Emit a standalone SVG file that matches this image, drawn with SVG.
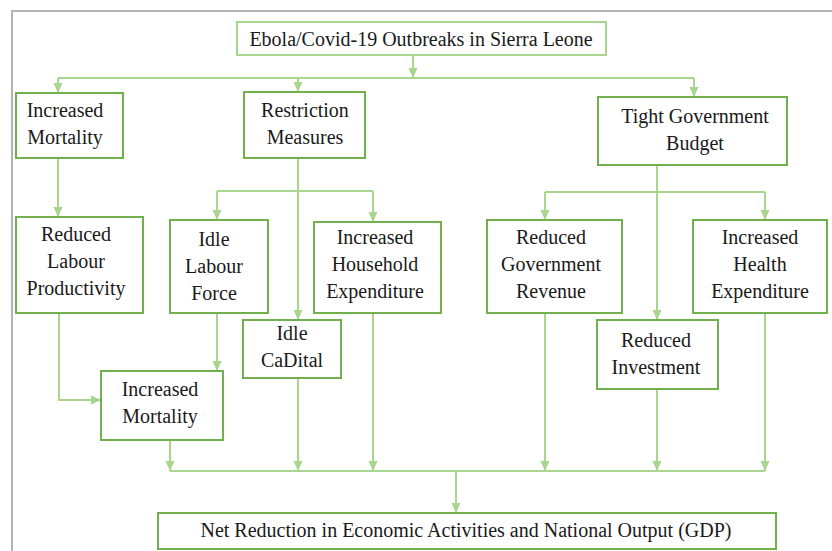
<svg xmlns="http://www.w3.org/2000/svg" width="832" height="551" viewBox="0 0 832 551">
<style>
.box{fill:#ffffff;stroke:#72b04e;stroke-width:2}
.box2{fill:#ffffff;stroke:#a9d68e;stroke-width:2}
.t{font-family:'Liberation Serif','Times New Roman',Tinos,'DejaVu Serif',serif;font-size:20px;fill:#1a1a1a;text-anchor:middle}
.c{fill:none;stroke:#a9d68e;stroke-width:2}
.frame{fill:none;stroke:#b4b4b4;stroke-width:2}
</style>
<defs>
<marker id="ah" markerUnits="userSpaceOnUse" markerWidth="10" markerHeight="10" refX="10" refY="5" orient="auto">
<path d="M0,0.5 L10,5 L0,9.5 z" fill="#a9d68e"/>
</marker>
</defs>
<rect width="832" height="551" fill="#ffffff"/>
<path class="frame" d="M12,551 L12,11 L832,11"/>
<g id="connectors">
<path class="c" d="M413,55 L413,78" marker-end="url(#ah)"/>
<path class="c" d="M58,78 L694,78"/>
<path class="c" d="M58,78 L58,93" marker-end="url(#ah)"/>
<path class="c" d="M298,78 L298,92" marker-end="url(#ah)"/>
<path class="c" d="M694,78 L694,97" marker-end="url(#ah)"/>
<path class="c" d="M58,158 L58,217" marker-end="url(#ah)"/>
<path class="c" d="M298,158 L298,320" marker-end="url(#ah)"/>
<path class="c" d="M217,191 L373,191"/>
<path class="c" d="M217,191 L217,220" marker-end="url(#ah)"/>
<path class="c" d="M373,191 L373,222" marker-end="url(#ah)"/>
<path class="c" d="M657,165 L657,320" marker-end="url(#ah)"/>
<path class="c" d="M545,192 L765,192"/>
<path class="c" d="M545,192 L545,220" marker-end="url(#ah)"/>
<path class="c" d="M765,192 L765,220" marker-end="url(#ah)"/>
<path class="c" d="M59,313 L59,400 L101,400" marker-end="url(#ah)"/>
<path class="c" d="M217,313 L217,371" marker-end="url(#ah)"/>
<path class="c" d="M170,471 L765,471"/>
<path class="c" d="M170,440 L170,471" marker-end="url(#ah)"/>
<path class="c" d="M298,378 L298,471" marker-end="url(#ah)"/>
<path class="c" d="M373,313 L373,471" marker-end="url(#ah)"/>
<path class="c" d="M545,313 L545,471" marker-end="url(#ah)"/>
<path class="c" d="M657,389 L657,471" marker-end="url(#ah)"/>
<path class="c" d="M765,313 L765,471" marker-end="url(#ah)"/>
<path class="c" d="M456,471 L456,513" marker-end="url(#ah)"/>
</g>
<g id="outbreaks">
<rect class="box2" x="237" y="22" width="369" height="33"/>
<text class="t" x="421" y="46">Ebola/Covid-19 Outbreaks in Sierra Leone</text>
</g>
<g id="mortality1">
<rect class="box" x="16" y="93" width="107" height="65"/>
<text class="t" x="65" y="117">Increased</text>
<text class="t" x="65" y="144">Mortality</text>
</g>
<g id="restriction">
<rect class="box" x="244" y="92" width="121" height="66"/>
<text class="t" x="305" y="117">Restriction</text>
<text class="t" x="305" y="144">Measures</text>
</g>
<g id="budget">
<rect class="box" x="598" y="97" width="189" height="68"/>
<text class="t" x="695" y="123">Tight Government</text>
<text class="t" x="695" y="150">Budget</text>
</g>
<g id="labour-productivity">
<rect class="box" x="16" y="217" width="127" height="96"/>
<text class="t" x="76" y="241">Reduced</text>
<text class="t" x="76" y="268">Labour</text>
<text class="t" x="76" y="295">Productivity</text>
</g>
<g id="idle-labour">
<rect class="box" x="170" y="220" width="98" height="93"/>
<text class="t" x="214" y="246">Idle</text>
<text class="t" x="214" y="273">Labour</text>
<text class="t" x="214" y="300">Force</text>
</g>
<g id="household">
<rect class="box" x="314" y="222" width="127" height="91"/>
<text class="t" x="375" y="244">Increased</text>
<text class="t" x="375" y="271">Household</text>
<text class="t" x="375" y="298">Expenditure</text>
</g>
<g id="revenue">
<rect class="box" x="487" y="220" width="135" height="93"/>
<text class="t" x="551" y="244">Reduced</text>
<text class="t" x="551" y="271">Government</text>
<text class="t" x="551" y="298">Revenue</text>
</g>
<g id="health">
<rect class="box" x="693" y="220" width="134" height="93"/>
<text class="t" x="760" y="244">Increased</text>
<text class="t" x="760" y="271">Health</text>
<text class="t" x="760" y="298">Expenditure</text>
</g>
<g id="mortality2">
<rect class="box" x="101" y="371" width="122" height="69"/>
<text class="t" x="160" y="396">Increased</text>
<text class="t" x="160" y="423">Mortality</text>
</g>
<g id="idle-capital">
<rect class="box" x="243" y="320" width="98" height="58"/>
<text class="t" x="292" y="340">Idle</text>
<text class="t" x="292" y="367">CaDital</text>
</g>
<g id="investment">
<rect class="box" x="597" y="320" width="121" height="69"/>
<text class="t" x="656" y="347">Reduced</text>
<text class="t" x="656" y="374">Investment</text>
</g>
<g id="gdp">
<rect class="box" x="158" y="513" width="618" height="36"/>
<text class="t" x="466" y="537">Net Reduction in Economic Activities and National Output (GDP)</text>
</g>
</svg>
